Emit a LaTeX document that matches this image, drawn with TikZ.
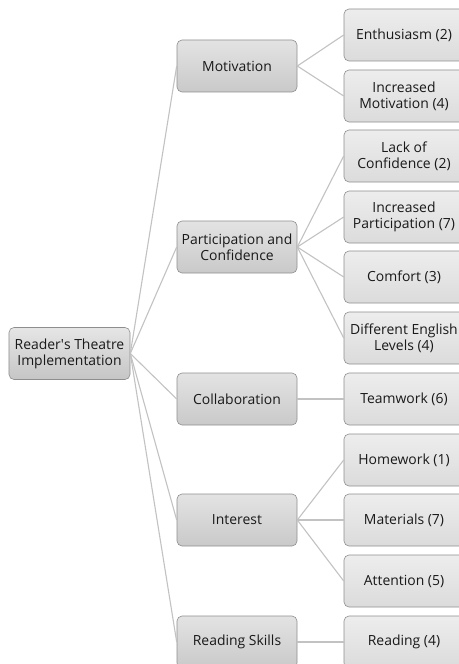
\documentclass[tikz,border=0pt]{standalone}
\usepackage{fontspec}
\setmainfont{Open Sans}
\usepackage{xcolor}
\usepackage{tikz}
\usetikzlibrary{positioning}

\definecolor{boxline}{HTML}{8E8E8E}
\definecolor{linkgray}{HTML}{C2C2C2}

\begin{document}
\begin{tikzpicture}[x=1bp,y=-1bp,
  font=\fontsize{14}{16}\selectfont,
  box/.style={rounded corners=5bp,draw=boxline,line width=0.6bp,minimum width=120bp,minimum height=52bp,align=center,inner sep=1bp,text=black!90},
  topbox/.style={box,top color=gray!20,bottom color=gray!45},
  midbox/.style={box,top color=gray!22,bottom color=gray!42},
  leaf/.style={box,top color=gray!14,bottom color=gray!28},
  link/.style={linkgray,line width=1.1bp}]
\clip (0,0) rectangle (459,664);
% root and themes
\node[topbox,minimum width=121bp] (root) at (69.5,353.5) {Reader\textquotesingle s Theatre\\Implementation};
\foreach \n/\y/\t in {mot/66/Motivation,part/247/{Participation and\\Confidence},coll/399/Collaboration,int/520/Interest,rdg/642/Reading Skills}{
  \node[midbox] (\n) at (237,\y) {\t};
  \draw[link] (root.east) -- (\n.west);
}
% codes
\foreach \n/\y/\t in {enth/35/Enthusiasm (2),incmot/96/{Increased\\Motivation (4)},lack/156/{Lack of\\Confidence (2)},incpart/217/{Increased\\Participation (7)},comf/277/Comfort (3),diff/338/{Different English\\Levels (4)},team/399/Teamwork (6),home/460/Homework (1),mat/520/Materials (7),att/581/Attention (5),read/642/Reading (4)}{
  \node[leaf] (\n) at (404,\y) {\t};
}
\foreach \p/\c in {mot/enth,mot/incmot,part/lack,part/incpart,part/comf,part/diff,coll/team,int/home,int/mat,int/att,rdg/read}{
  \draw[link] (\p.east) -- (\c.west);
}
\end{tikzpicture}
\end{document}
